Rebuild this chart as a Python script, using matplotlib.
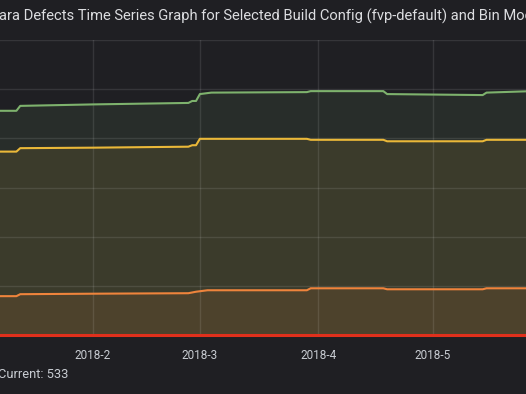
import matplotlib
matplotlib.use("Agg")
import matplotlib.pyplot as plt
import matplotlib.dates as mdates
from matplotlib.ticker import FuncFormatter
import pandas as pd

# series (step changes, y in defects)
green_dates = ["2018-01-06", "2018-01-12", "2018-01-13", "2018-02-01", "2018-02-26", "2018-02-27",
               "2018-02-28", "2018-03-01", "2018-03-04", "2018-03-29", "2018-03-30", "2018-04-18",
               "2018-04-19", "2018-05-14", "2018-05-15", "2018-05-27"]
green_values = [456, 456, 466, 469, 472, 476, 476, 490, 493, 494, 496, 496, 490, 488, 493, 496]

yellow_dates = ["2018-01-06", "2018-01-12", "2018-01-13", "2018-02-01", "2018-02-26", "2018-02-27",
                "2018-02-28", "2018-03-01", "2018-03-29", "2018-03-30", "2018-04-18", "2018-04-19",
                "2018-05-14", "2018-05-15", "2018-05-27"]
yellow_values = [373, 373, 380, 381, 383, 386, 386, 399, 399, 397, 397, 394, 394, 397, 397]

orange_dates = ["2018-01-06", "2018-01-12", "2018-01-13", "2018-02-01", "2018-02-26", "2018-02-28",
                "2018-03-03", "2018-03-29", "2018-03-30", "2018-04-18", "2018-04-19", "2018-05-14",
                "2018-05-15", "2018-05-27"]
orange_values = [79, 79, 83, 84, 85, 88, 91, 91, 95, 95, 93, 93, 95, 95]

red_dates = ["2018-01-06", "2018-05-27"]
red_values = [0, 0]

title = "ara Defects Time Series Graph for Selected Build Config (fvp-default) and Bin Mode"
legend_text = "Current: 533"

bg = "#1f1f23"
plt.rcParams['font.family'] = ['Roboto', 'DejaVu Sans']

fig = plt.figure(figsize=(5.26, 3.94), dpi=100, facecolor=bg)
ax = fig.add_axes([0, 59 / 394, 1, 295 / 394])
ax.set_facecolor(bg)

series = [
    (green_dates, green_values, "#7eb26d"),
    (yellow_dates, yellow_values, "#eab839"),
    (orange_dates, orange_values, "#ef843c"),
]
for d, v, c in series:
    d = pd.to_datetime(d)
    ax.fill_between(d, 0, v, color=c, alpha=0.1, linewidth=0, zorder=1)
    ax.plot(d, v, color=c, linewidth=1.5, zorder=3)
ax.plot(pd.to_datetime(red_dates), red_values, color="#e0301c", linewidth=2.2, zorder=4, clip_on=False)

ax.set_xlim(pd.Timestamp("2018-01-07 17:00"), pd.Timestamp("2018-05-25 08:00"))
ax.set_ylim(0, 600)
ax.set_yticks(range(0, 601, 100))
ax.xaxis.set_major_locator(mdates.MonthLocator())
ax.xaxis.set_major_formatter(FuncFormatter(lambda x, p: "%d-%d" % (mdates.num2date(x).year, mdates.num2date(x).month)))
ax.grid(True, color="white", alpha=0.1, linewidth=1, zorder=2)
ax.tick_params(axis="x", length=0, pad=10, labelsize=8.5, labelcolor="#c8ccd2")
ax.tick_params(axis="y", length=0, labelleft=False)
for s in ax.spines.values():
    s.set_visible(False)

fig.text(-0.002, 1 - 16 / 394, title, color="#dcdde0", fontsize=10.6,
         ha="left", va="center")
fig.text(-0.004, 1 - 375 / 394, legend_text, color="#c8ccd2", fontsize=9.3, ha="left", va="center")

fig.savefig("out.png", dpi=100, facecolor=bg)
